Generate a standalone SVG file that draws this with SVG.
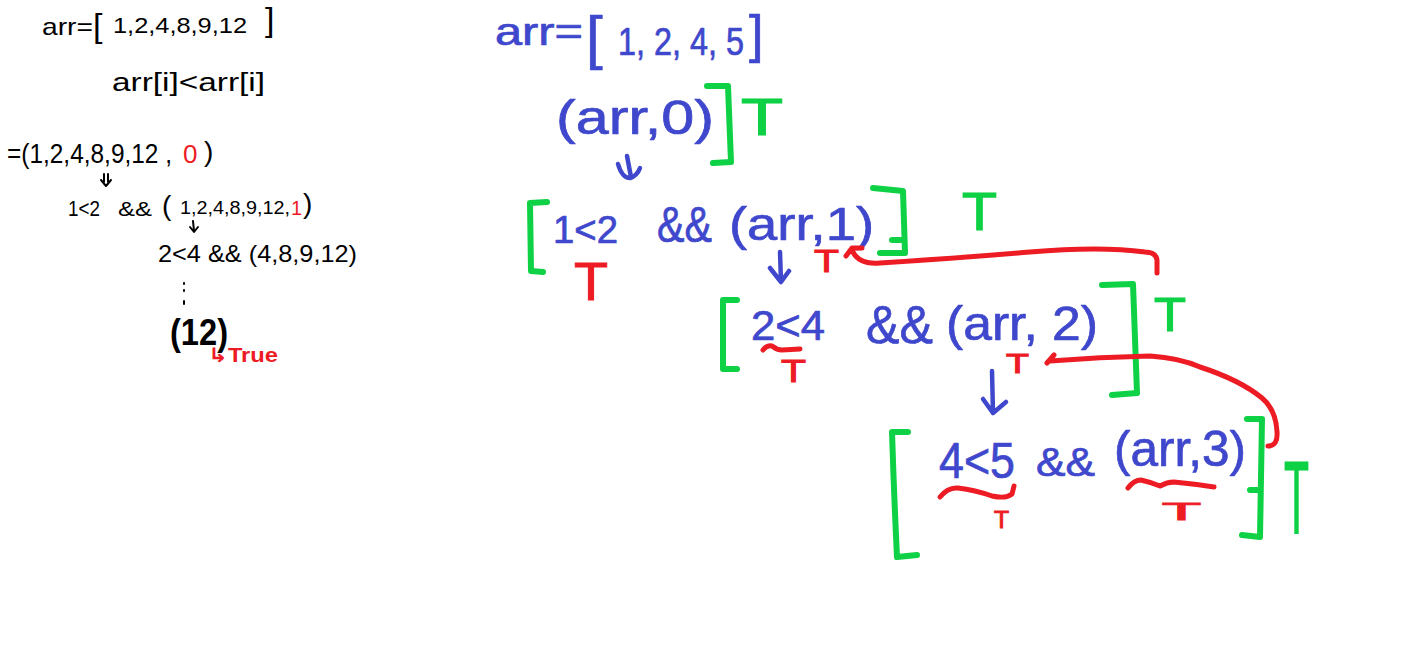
<svg xmlns="http://www.w3.org/2000/svg" width="1416" height="672" viewBox="0 0 1416 672">
<style>
.k{font-family:"Liberation Sans",Arial,sans-serif;fill:#000;}
.b{font-family:"Liberation Sans",Arial,sans-serif;fill:#3F48CC;stroke:#3F48CC;stroke-width:0.7;stroke-linejoin:round;}
.gT{font-family:"Liberation Sans",Arial,sans-serif;fill:#0ED145;stroke:#0ED145;stroke-width:1.2;}
.rT{font-family:"Liberation Sans",Arial,sans-serif;fill:#ED1C24;stroke:#ED1C24;stroke-width:1;}
.rt{font-family:"Liberation Sans","DejaVu Sans",sans-serif;fill:#ED1C24;}
.gb{fill:none;stroke:#0ED145;stroke-width:6;stroke-linecap:round;stroke-linejoin:round;}
.rl{fill:none;stroke:#ED1C24;stroke-width:5;stroke-linecap:round;stroke-linejoin:round;}
.bl{fill:none;stroke:#3F48CC;stroke-width:4.5;stroke-linecap:round;stroke-linejoin:round;}
.kl{fill:none;stroke:#000;stroke-width:2;stroke-linecap:round;stroke-linejoin:round;}
</style>
<rect width="1416" height="672" fill="#fff"/>

<g id="left-notes">
<text class="k" x="42" y="35" font-size="24" textLength="51" lengthAdjust="spacingAndGlyphs">arr=</text>
<text class="k" x="93" y="37" font-size="34">[</text>
<text class="k" x="113" y="33" font-size="22" textLength="134" lengthAdjust="spacingAndGlyphs">1,2,4,8,9,12</text>
<text class="k" x="265" y="31" font-size="34">]</text>
<text class="k" x="112" y="91" font-size="26" textLength="153" lengthAdjust="spacingAndGlyphs">arr[i]&lt;arr[i]</text>
<text class="k" x="7" y="163" font-size="28" textLength="165" lengthAdjust="spacingAndGlyphs">=(1,2,4,8,9,12 ,</text>
<text class="rt" x="183" y="163" font-size="26">0</text>
<text class="k" x="204" y="161" font-size="28">)</text>
<path class="kl" d="M104,174 L104,182 M108,174 L108,182 M101,180 L106,186 L111,180"/>
<text class="k" x="68" y="216" font-size="22" textLength="32" lengthAdjust="spacingAndGlyphs">1&lt;2</text>
<text class="k" x="118" y="216" font-size="20" textLength="34" lengthAdjust="spacingAndGlyphs">&amp;&amp;</text>
<text class="k" x="162" y="215" font-size="28">(</text>
<text class="k" x="180" y="214" font-size="18" textLength="110" lengthAdjust="spacingAndGlyphs">1,2,4,8,9,12,</text>
<text class="rt" x="291" y="215" font-size="20">1</text>
<text class="k" x="303" y="213" font-size="28">)</text>
<path class="kl" d="M193,221 L194,231 M190,227 L194,232 L198,227"/>
<text class="k" x="158" y="262" font-size="24" textLength="199" lengthAdjust="spacingAndGlyphs">2&lt;4 &amp;&amp; (4,8,9,12)</text>
<path class="kl" stroke-width="3.2" d="M184,283 L184,284 M184,290 L184,291 M184,301 L184,304"/>
<text class="k" x="170" y="345" font-size="36" font-weight="bold" textLength="58" lengthAdjust="spacingAndGlyphs">(12)</text>
<text class="rt" x="208" y="362" font-size="20" font-weight="bold" textLength="70" lengthAdjust="spacingAndGlyphs">↳True</text>
</g>

<g id="array">
<text class="b" x="495" y="45" font-size="38" textLength="88" lengthAdjust="spacingAndGlyphs">arr=</text>
<text class="b" x="586" y="58" font-size="60">[</text>
<text class="b" x="618" y="55" font-size="38" textLength="126" lengthAdjust="spacingAndGlyphs">1, 2, 4, 5</text>
<text class="b" x="749" y="52" font-size="52">]</text>
</g>

<g id="call0">
<text class="b" x="556" y="134" font-size="48" textLength="158" lengthAdjust="spacingAndGlyphs">(arr,0)</text>
<path class="gb" d="M707,86 L728,86 L731,162 L713,163"/>
<text class="gT" x="741" y="135" font-size="52" textLength="42" lengthAdjust="spacingAndGlyphs">T</text>
</g>

<g id="call1">
<path class="gb" d="M547,202 L530,203 L531,271 L543,272"/>
<text class="b" x="553" y="243" font-size="38" textLength="65" lengthAdjust="spacingAndGlyphs">1&lt;2</text>
<text class="b" x="657" y="242" font-size="50" textLength="55" lengthAdjust="spacingAndGlyphs">&amp;&amp;</text>
<text class="b" x="729" y="240" font-size="46" textLength="145" lengthAdjust="spacingAndGlyphs">(arr,1)</text>
<path class="gb" d="M873,188 L903,191 L905,253 L880,253 M892,240 L904,240"/>
<text class="gT" x="962" y="230" font-size="53" textLength="35" lengthAdjust="spacingAndGlyphs">T</text>
<text class="rT" x="574" y="300" font-size="54" textLength="34" lengthAdjust="spacingAndGlyphs">T</text>
<text class="rT" x="814" y="272" font-size="32" textLength="25" lengthAdjust="spacingAndGlyphs">T</text>
</g>

<g id="call2">
<path class="gb" d="M737,300 L723,300 L723,369 L737,369"/>
<text class="b" x="751" y="340" font-size="42" textLength="74" lengthAdjust="spacingAndGlyphs">2&lt;4</text>
<text class="b" x="866" y="343" font-size="54" textLength="67" lengthAdjust="spacingAndGlyphs">&amp;&amp;</text>
<text class="b" x="946" y="340" font-size="48" textLength="152" lengthAdjust="spacingAndGlyphs">(arr, 2)</text>
<path class="rl" stroke-width="4" d="M763,350 Q767,345 772,346 Q777,350 782,350 L800,349"/>
<text class="rT" x="781" y="382" font-size="32" textLength="25" lengthAdjust="spacingAndGlyphs">T</text>
<path class="gb" d="M1102,285 L1133,284 L1137,393 L1112,395"/>
<text class="gT" x="1154" y="331" font-size="49" textLength="32" lengthAdjust="spacingAndGlyphs">T</text>
<text class="rT" x="1006" y="373" font-size="27" textLength="23" lengthAdjust="spacingAndGlyphs">T</text>
</g>

<g id="call3">
<path class="gb" d="M908,432 L892,432 Q894,495 897,557 L917,555"/>
<text class="b" x="939" y="478" font-size="50" textLength="76" lengthAdjust="spacingAndGlyphs">4&lt;5</text>
<text class="b" x="1036" y="476" font-size="40" textLength="59" lengthAdjust="spacingAndGlyphs">&amp;&amp;</text>
<text class="b" x="1114" y="466" font-size="50" textLength="132" lengthAdjust="spacingAndGlyphs">(arr,3)</text>
<path class="rl" stroke-width="4" d="M940,497 Q948,487 958,488 Q975,490 992,496 Q1006,499 1012,494 L1014,486"/>
<text class="rT" x="994" y="528" font-size="24" textLength="15" lengthAdjust="spacingAndGlyphs">T</text>
<path class="rl" stroke-width="4" d="M1128,488 Q1134,480 1141,480 Q1150,482 1160,486 Q1167,482 1174,482 Q1195,484 1214,487"/>
<text class="rT" x="1162" y="520" font-size="24" textLength="39" lengthAdjust="spacingAndGlyphs" stroke-width="0.3">T</text>
<path class="gb" d="M1247,419 L1262,419 L1260,537 L1242,535 M1250,490 L1258,490"/>
<text class="gT" x="1284" y="534" font-size="104" textLength="25" lengthAdjust="spacingAndGlyphs" stroke-width="0.3">T</text>
</g>

<g id="connectors">
<path class="bl" d="M627,156 L631,177 M618,164 Q622,178 630,178 Q637,176 640,168"/>
<path class="bl" d="M780,252 L781,282 M770,268 L781,282 L789,271"/>
<path class="bl" d="M992,371 L993,413 M983,399 L993,413 L1006,402"/>
<path class="rl" d="M1157,273 L1157,260 Q1156,252 1145,252 Q1100,246 1030,252 Q960,258 880,263 Q858,265 852,250 M846,256 L852,248 L862,248"/>
<path class="rl" d="M1268,446 Q1278,446 1277,432 Q1276,410 1262,398 Q1240,380 1200,367 Q1180,358 1150,356 Q1100,357 1050,361 M1047,363 L1054,355"/>
</g>
</svg>
